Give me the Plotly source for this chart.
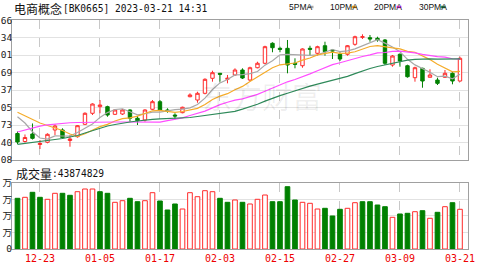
import plotly.graph_objects as go

# ---------------- data ----------------
dates = ["12-20","12-21","12-22","12-23","12-26","12-27","12-28","12-29","12-30",
         "01-03","01-04","01-05","01-06","01-09","01-10","01-11","01-12","01-13","01-16","01-17",
         "01-18","01-19","01-20","01-30","01-31","02-01","02-02","02-03","02-06","02-07",
         "02-08","02-09","02-10","02-13","02-14","02-15","02-16","02-17","02-20","02-21",
         "02-22","02-23","02-24","02-27","02-28","03-01","03-02","03-03","03-06","03-07",
         "03-08","03-09","03-10","03-13","03-14","03-15","03-16","03-17","03-20","03-21"]

opens = [1056.9,1042.1,1056.0,1036.6,1040.7,1063.4,1063.4,1044.0,1051.0,1073.9,
         1094.2,1106.4,1106.4,1092.3,1092.9,1100.3,1085.0,1081.8,1101.6,1115.6,
         1100.3,1091.0,1095.3,1124.8,1118.7,1131.1,1158.8,1168.0,1156.9,1164.9,
         1174.1,1155.6,1178.3,1186.5,1223.4,1214.1,1214.1,1186.5,1182.0,1214.1,
         1204.9,1218.9,1211.0,1203.1,1203.1,1221.5,1234.4,1233.7,1232.6,1229.5,
         1183.3,1203.1,1182.0,1159.9,1177.2,1160.6,1155.6,1160.6,1168.0,1153.8]
highs = [1060.6,1055.1,1075.4,1044.9,1057.3,1073.9,1066.5,1054.1,1072.6,1096.0,
         1112.6,1118.7,1108.2,1102.1,1102.1,1101.6,1089.2,1101.6,1118.7,1118.7,
         1103.4,1094.2,1106.4,1131.1,1134.0,1158.8,1172.8,1168.6,1164.9,1177.2,
         1177.2,1180.2,1189.4,1218.9,1225.2,1217.1,1229.5,1195.7,1214.1,1218.9,
         1218.9,1226.3,1212.9,1206.8,1220.2,1237.4,1240.0,1238.7,1235.5,1231.3,
         1201.8,1204.9,1183.9,1180.2,1178.3,1175.4,1159.9,1174.1,1171.0,1198.6]
lows = [1037.5,1040.3,1045.8,1028.3,1038.8,1054.1,1046.8,1032.5,1049.2,1072.6,
        1091.0,1094.2,1087.9,1091.0,1091.0,1078.7,1072.6,1078.7,1100.3,1099.0,
        1095.3,1083.1,1094.2,1123.7,1113.7,1129.2,1152.5,1152.5,1149.5,1163.0,
        1157.5,1153.8,1177.2,1184.6,1206.8,1206.8,1168.0,1177.2,1178.3,1200.5,
        1200.5,1200.5,1194.4,1190.7,1200.5,1218.9,1231.3,1226.3,1226.3,1183.3,
        1180.2,1180.2,1159.9,1152.5,1141.4,1160.6,1146.4,1159.9,1147.7,1152.5]
closes = [1041.2,1049.5,1048.0,1038.5,1055.4,1070.7,1049.2,1046.8,1071.3,1094.2,
          1111.3,1109.5,1091.0,1100.3,1100.3,1085.0,1080.5,1100.3,1115.6,1100.3,
          1098.4,1089.2,1105.3,1128.0,1131.1,1156.9,1169.1,1166.2,1158.8,1174.1,
          1159.3,1178.3,1186.5,1217.1,1215.2,1212.3,1183.3,1184.6,1212.9,1212.3,
          1217.1,1207.9,1209.2,1194.4,1218.9,1235.5,1235.5,1231.3,1230.0,1186.5,
          1199.9,1190.7,1161.7,1178.3,1153.8,1164.9,1149.5,1168.0,1153.8,1195.7]

ma5 = [1087.9,1076.3,1060.2,1048.6,1046.6,1052.5,1052.3,1052.1,1058.8,1066.5,
       1074.6,1086.6,1095.5,1101.2,1102.5,1097.1,1091.4,1093.3,1096.4,1096.4,
       1099.0,1100.8,1101.8,1104.2,1110.4,1122.1,1138.1,1150.3,1156.4,1165.1,
       1165.4,1167.3,1171.3,1183.1,1191.3,1202.0,1202.9,1202.5,1201.6,1201.0,
       1202.0,1206.9,1211.9,1208.2,1209.5,1213.2,1218.8,1223.2,1230.2,1223.7,
       1216.7,1207.7,1193.8,1183.5,1176.9,1169.8,1161.7,1162.8,1158.0,1166.3]
ma10 = [1096.0,1089.2,1082.7,1076.3,1071.7,1067.6,1062.4,1056.0,1051.4,1056.5,
        1063.5,1069.5,1073.7,1080.0,1084.4,1085.9,1089.0,1094.4,1098.8,1099.4,
        1098.1,1096.0,1097.5,1100.3,1103.4,1110.6,1119.5,1125.9,1130.4,1137.7,
        1143.8,1152.7,1160.8,1169.7,1178.2,1183.7,1185.2,1187.0,1192.4,1196.2,
        1202.0,1204.9,1207.1,1204.9,1205.3,1207.7,1212.9,1217.5,1219.1,1216.5,
        1214.9,1213.2,1208.4,1206.8,1200.3,1193.3,1184.6,1178.3,1170.8,1171.7]
ma20 = [1059.7,1063.4,1067.1,1070.4,1073.0,1074.4,1075.7,1076.7,1077.2,1077.6,
        1077.9,1078.1,1078.1,1078.1,1078.1,1078.1,1078.1,1078.1,1077.9,1077.9,
        1080.7,1082.7,1085.7,1090.1,1093.8,1098.2,1104.2,1110.2,1114.5,1118.5,
        1120.9,1124.5,1129.2,1135.0,1140.7,1147.2,1152.3,1156.6,1161.4,1166.9,
        1172.8,1178.9,1184.1,1187.4,1191.6,1195.7,1199.0,1202.1,1205.8,1206.4,
        1208.4,1209.0,1207.9,1205.8,1202.9,1200.5,1198.8,1197.9,1194.9,1194.2]
ma30 = [1037.0,1038.5,1040.3,1042.1,1044.0,1045.8,1047.7,1050.4,1053.2,1057.8,
        1062.4,1067.1,1070.7,1073.5,1076.3,1078.1,1080.0,1081.8,1083.1,1084.0,
        1084.6,1085.0,1085.5,1086.4,1088.3,1090.1,1092.0,1093.8,1095.7,1097.9,
        1101.8,1106.2,1110.8,1116.7,1122.1,1126.7,1131.1,1135.7,1140.5,1144.4,
        1147.9,1151.2,1155.1,1158.2,1162.3,1167.3,1172.4,1176.9,1180.6,1183.5,
        1186.8,1190.3,1192.2,1193.8,1194.6,1194.8,1194.2,1194.2,1194.0,1194.8]

# volume in 万
volume = [5602,5713,6265,5713,5492,6155,6155,5934,6332,6630,
          6630,6332,6155,5160,5337,5602,5227,5337,6221,5304,
          4310,4973,4420,6221,5779,6442,6332,5602,5160,5415,
          5160,4973,5492,5967,5227,5227,6884,5415,5160,5050,
          4420,4497,3647,4387,4497,5116,5227,5227,4862,4674,
          3503,3868,3945,4122,4232,3392,4055,4674,5116,4387]
vol_up = [0,1,0,0,1,1,0,0,1,1, 1,0,0,1,1,0,0,1,1,0,
          0,0,1,1,1,1,1,0,0,1, 0,1,1,1,0,0,0,0,1,1,
          1,0,0,0,1,1,0,0,0,0, 1,0,0,1,0,1,0,1,0,1]

# tick labels: only the part visible in the (left-cropped) reference
price_ticks = [1008, 1040.25, 1072.5, 1104.75, 1137, 1169.25, 1201.5, 1233.75, 1266]
price_ticktext = ["08", "40", "73", "05", "37", "69", "01", "34", "66"]
vol_ticks = [0, 1831.5, 3663, 5494.5, 7326]
vol_ticktext = ["0", "万", "万", "万", "万"]
date_ticks = ["12-23", "01-05", "01-17", "02-03", "02-15", "02-27", "03-09", "03-21"]

title_cn = "电商概念"
title_rest = "[BK0665] 2023-03-21 14:31"
vol_label = "成交量"
vol_value = ":43874829"
ma_names = ["5PMA", "10PMA", "20PMA", "30PMA"]

# ---------------- style ----------------
RED = "#ff2a2a"
GREEN = "#008000"
MA_COLORS = ["#a8a8a8", "#f5ac2a", "#ff4dff", "#2f8a5a"]
W, H = 479, 270
MONO = "DejaVu Sans Mono, Noto Sans CJK SC"
CJK = "Noto Sans CJK SC"

def px(x):
    return x / W

def py(y):
    return 1 - y / H

fig = go.Figure()

fig.add_trace(go.Candlestick(
    x=dates, open=opens, high=highs, low=lows, close=closes,
    xaxis="x2", yaxis="y2",
    increasing=dict(line=dict(color=RED, width=1), fillcolor="white"),
    decreasing=dict(line=dict(color=GREEN, width=1), fillcolor=GREEN),
    whiskerwidth=0, hoverinfo="skip",
))
for name, series, col in zip(ma_names, [ma5, ma10, ma20, ma30], MA_COLORS):
    fig.add_trace(go.Scatter(x=dates, y=series, mode="lines", name=name,
                             line=dict(color=col, width=1.2),
                             xaxis="x2", yaxis="y2", hoverinfo="skip"))

fig.add_trace(go.Bar(
    x=dates, y=volume, width=0.62,
    marker=dict(color=["white" if u else GREEN for u in vol_up],
                line=dict(color=[RED if u else GREEN for u in vol_up], width=1)),
    xaxis="x", yaxis="y", hoverinfo="skip",
))

dom_x = [px(12), px(468)]
common_x = dict(type="category", range=[-0.73, 60.07], domain=dom_x,
                tickmode="array", tickvals=date_ticks, ticktext=date_ticks,
                showgrid=True, gridcolor="#c8c8c8", griddash="dash", gridwidth=1,
                showline=True, mirror=True, linecolor="#a0a0a0", linewidth=1,
                ticks="", zeroline=False, fixedrange=True, automargin=False)
axis_y = dict(showgrid=True, gridcolor="#e2e2e2", gridwidth=1,
              showline=True, mirror=True, linecolor="#a0a0a0", linewidth=1,
              ticks="", zeroline=False, tickmode="array", fixedrange=True,
              automargin=False, ticklabelstandoff=-3,
              tickfont=dict(family=MONO, size=9.5, color="#222222"))

fig.update_layout(
    width=W, height=H,
    margin=dict(l=0, r=0, t=0, b=0, pad=0, autoexpand=False),
    paper_bgcolor="white", plot_bgcolor="white",
    showlegend=False, boxgap=0.35, bargap=0.2,
    xaxis=dict(**common_x, anchor="y",
               tickfont=dict(family=MONO, size=10, color="#ee0000")),
    xaxis2=dict(**common_x, anchor="y2", matches="x", showticklabels=False),
    yaxis=dict(**axis_y, domain=[py(249), py(182.7)], range=[0, 7326], anchor="x",
               tickvals=vol_ticks, ticktext=vol_ticktext),
    yaxis2=dict(**axis_y, domain=[py(160), py(20.2)], range=[1008, 1266], anchor="x2",
                tickvals=price_ticks, ticktext=price_ticktext),
)
fig.update_xaxes(rangeslider_visible=False)

ann = []
ann.append(dict(text=title_cn, x=px(12), y=py(9), xanchor="left", yanchor="middle",
                font=dict(family=CJK, size=12, color="#111111")))
ann.append(dict(text=title_rest, x=px(61), y=py(9), xanchor="left", yanchor="middle",
                font=dict(family=MONO, size=9.6, color="#111111")))
ann.append(dict(text=vol_label, x=px(14), y=py(173), xanchor="left", yanchor="middle",
                font=dict(family=CJK, size=12, color="#111111")))
ann.append(dict(text=vol_value, x=px(50), y=py(173), xanchor="left", yanchor="middle",
                font=dict(family=MONO, size=9.6, color="#111111")))
# watermark
ann.append(dict(text="东方财富", x=px(262), y=py(95), xanchor="center", yanchor="middle",
                font=dict(family=CJK, size=30, color="rgba(0,0,0,0.07)")))

legend_x = [287, 328, 372, 417]
legend_w = [20, 22, 23, 22]
shapes = []
for name, lx, lw, col in zip(ma_names, legend_x, legend_w, MA_COLORS):
    ann.append(dict(text=name, x=px(lx), y=py(7), xanchor="left", yanchor="middle",
                    font=dict(family="Liberation Sans Narrow, Liberation Sans", size=8.5,
                              color="#111111")))
    x0 = lx + lw + 1.5
    shapes.append(dict(type="line", xref="paper", yref="paper",
                       x0=px(x0), x1=px(x0 + 5), y0=py(7), y1=py(7),
                       line=dict(color=col, width=2.5)))
for a in ann:
    a.update(xref="paper", yref="paper", showarrow=False)
fig.update_layout(annotations=ann, shapes=shapes)

fig.write_html("out.html")
